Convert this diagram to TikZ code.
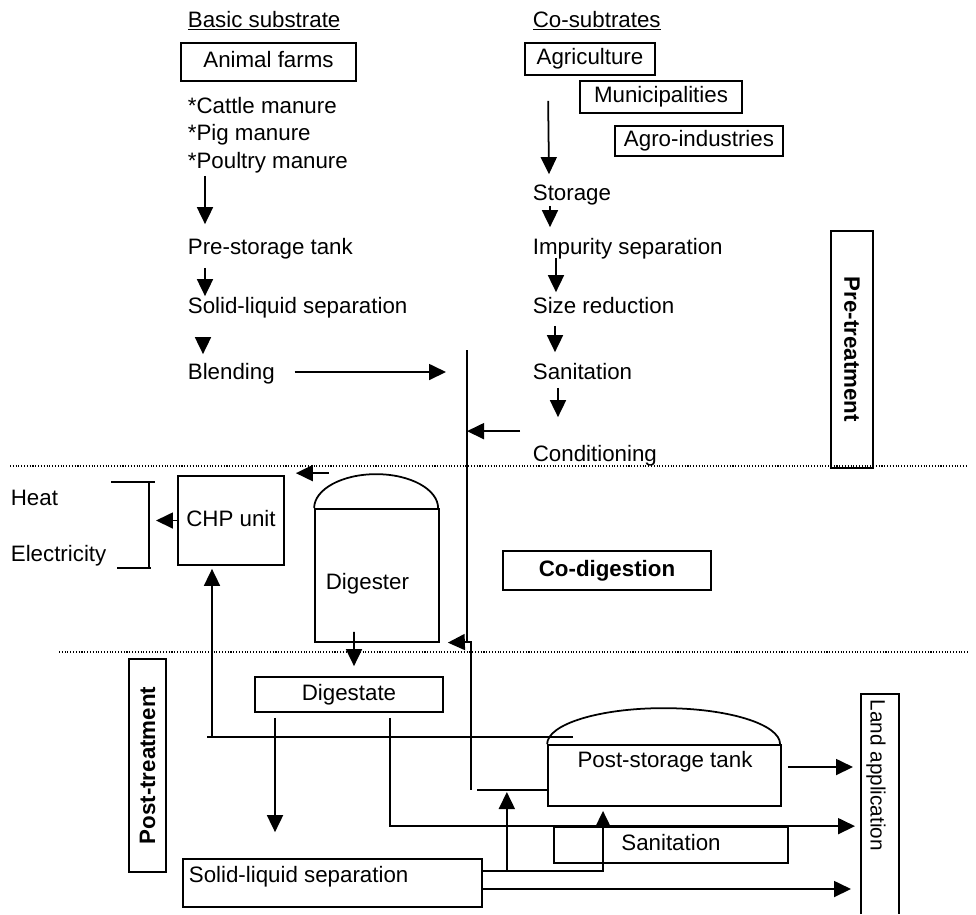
\documentclass[tikz,border=0pt]{standalone}
\usepackage{fontspec}
\setmainfont{Liberation Sans}
\usetikzlibrary{arrows.meta}

\begin{document}
\begin{tikzpicture}[x=0.02cm, y=-0.02cm, line width=1pt,
    font=\fontsize{12.7}{15}\selectfont,
    txt/.style={inner sep=0pt, text height=3.2mm, text depth=1mm, anchor=base west},
    box/.style={draw, inner sep=0pt, text height=3.2mm, text depth=1mm},
    stage/.style={draw, inner sep=0pt, font=\fontsize{12.7}{15}\selectfont\bfseries},
    arr/.style={-{Triangle[length=3.4mm, width=3.2mm]}},
    phase/.style={densely dotted, line width=0.6pt}]
    \useasboundingbox (0,0) rectangle (976,914);

    % Basic substrate
    \node[txt] (basic) at (187,27) {\underline{Basic substrate}};
    \node[box, minimum width=3.5cm, minimum height=0.76cm] (farms) at (268.5,62) {Animal farms};
    \node[txt] (cattle) at (187,113) {*Cattle manure};
    \node[txt] (pig) at (187,140) {*Pig manure};
    \node[txt] (poultry) at (187,168) {*Poultry manure};
    \node[txt] (prestore) at (187,254) {Pre-storage tank};
    \node[txt] (slsep) at (187,313) {Solid-liquid separation};
    \node[txt] (blend) at (187,379) {Blending};

    \draw[arr] ([xshift=3.6mm, yshift=-0.4mm]poultry.south west) -- ([xshift=3.6mm, yshift=2.6mm]prestore.north west);
    \draw[arr] ([xshift=3.6mm, yshift=-1.6mm]prestore.south west) -- ([xshift=3.6mm]slsep.north west);
    \draw[arr] ([xshift=3.2mm, yshift=-4mm]slsep.south west) -- ([xshift=3.2mm, yshift=1.6mm]blend.north west);

    % Co-substrates
    \node[txt] (cosub) at (532,27) {\underline{Co-subtrates}};
    \node[box, minimum width=2.6cm, minimum height=0.64cm] (agri) at (590,59) {Agriculture};
    \node[box, minimum width=3.24cm, minimum height=0.64cm] (munic) at (661,97) {Municipalities};
    \node[box, minimum width=3.36cm, minimum height=0.6cm] (agro) at (699,141) {Agro-industries};
    \node[txt] (storage) at (532,200) {Storage};
    \node[txt] (impur) at (532,254) {Impurity separation};
    \node[txt] (sizered) at (532,313) {Size reduction};
    \node[txt] (sanit) at (532,379) {Sanitation};
    \node[txt] (cond) at (532,461) {Conditioning};

    \draw[arr] ([xshift=4.8mm, yshift=-5mm]agri.south west) -- ([xshift=3.4mm, yshift=1.8mm]storage.north west);
    \draw[arr] ([xshift=3.6mm]storage.south west) -- ([xshift=3.6mm, yshift=2mm]impur.north west);
    \draw[arr] ([xshift=4.8mm, yshift=0.4mm]impur.south west) -- ([xshift=4.8mm, yshift=0.8mm]sizered.north west);
    \draw[arr] ([xshift=4.6mm, yshift=-1.4mm]sizered.south west) -- ([xshift=4.6mm, yshift=2mm]sanit.north west);
    \draw[arr] ([xshift=5.2mm, yshift=-0.6mm]sanit.south west) -- ([xshift=5.2mm, yshift=5.4mm]cond.north west);

    \node[stage, rotate=-90, minimum width=4.74cm, minimum height=0.84cm] (pretreat) at (852,349.5) {Pre-treatment};

    % Phase borders
    \draw[phase] (10,466) -- (968,466);
    \draw[phase] (59,652) -- (968,652);

    % Co-digestion
    \node[box, minimum width=2.12cm, minimum height=1.78cm] (chp) at (231,520.5) {CHP unit};
    \node[draw, minimum width=2.48cm, minimum height=2.66cm] (digester) at (377,575.5) {};
    \draw (digester.north west) arc[start angle=180, end angle=0, x radius=1.24cm, y radius=0.68cm];
    \node[txt] (digtxt) at (325,589) {Digester};
    \node[stage, minimum width=4.16cm, minimum height=0.78cm] (codig) at (607,570.5) {Co-digestion};

    \node[txt] (heat) at (10,505) {Heat};
    \node[txt] (elec) at (10,561) {Electricity};
    \draw (111,482) -- (155,482) (149,482) -- (149,568) (117,568) -- (151,568);
    \coordinate (bracket) at (149,520);
    \draw[arr, shorten >=1.4mm] (chp.west) -- (chp.west -| bracket);
    \draw[arr] ([xshift=8.8mm, yshift=0.4mm]chp.north east) -- ([xshift=2.2mm, yshift=0.4mm]chp.north east);

    % Feed line
    \coordinate (bustop) at (467,350);
    \coordinate (busturn) at (467,642);
    \coordinate (busend) at (471,790);
    \coordinate (blendout) at ([xshift=3.8mm, yshift=0.3mm]blend.east);
    \coordinate (condout) at ([xshift=-2.4mm, yshift=2.6mm]cond.north west);
    \draw[arr, shorten >=4.2mm] (blendout) -- (blendout -| bustop);
    \draw[arr] (condout) -- (condout -| bustop);
    \draw (bustop) -- (busturn) -- ++(4,0) -- (busend);
    \draw[arr, shorten >=1.6mm] (busturn) -- (digester.south east);

    % Post-treatment
    \node[stage, rotate=90, minimum width=4.26cm, minimum height=0.74cm] (posttreat) at (147.5,765.5) {Post-treatment};
    \node[box, minimum width=3.76cm, minimum height=0.7cm] (digestate) at (349,694.5) {Digestate};
    \draw[arr] ([xshift=-4.6mm, yshift=2.2mm]digester.south) -- ([xshift=1mm, yshift=2mm]digestate.north);

    \node[draw, minimum width=4.66cm, minimum height=1.22cm] (poststore) at (664.5,775.5) {};
    \draw (poststore.north west) arc[start angle=180, end angle=0, x radius=2.33cm, y radius=0.72cm];
    \node[txt, anchor=base] (psttxt) at (665,767) {Post-storage tank};
    \node[box, minimum width=4.68cm, minimum height=0.72cm] (sanit2) at (671,845) {Sanitation};
    \node[draw, minimum width=5.98cm, minimum height=0.96cm] (slsep2) at (332.5,883) {};
    \node[txt] (sltxt) at (188,882) {Solid-liquid separation};

    % Land application
    \coordinate (laleft) at (861,694);
    \draw (861,914) -- (laleft) -- (899,694) -- (899,914);
    \node[rotate=-90, anchor=west, inner sep=0pt, font=\fontsize{11.8}{14}\selectfont] (landapp) at (876,699) {Land application};

    % Gas to CHP
    \coordinate (gas) at (573,737);
    \coordinate (chpin) at ([xshift=-3.8mm, yshift=-0.6mm]chp.south);
    \draw[arr] (gas) -| (chpin);
    \draw (chpin |- gas) -- ++(-5,0);

    % Digestate flows
    \coordinate (dg1) at ([xshift=-14.8mm, yshift=-1mm]digestate.south);
    \coordinate (dg2) at ([xshift=8.2mm, yshift=-1mm]digestate.south);
    \draw[arr, shorten >=5.2mm] (dg1) -- (dg1 |- slsep2.north);
    \draw[arr, shorten >=1.2mm] (dg2) |- (laleft |- sanit2.north);
    \draw ([xshift=1.2mm]busend) -- (busend -| poststore.west);

    \coordinate (psout) at ([xshift=1.2mm, yshift=1.7mm]poststore.east);
    \draw[arr, shorten >=1.6mm] (psout) -- (psout -| laleft);

    \coordinate (sl1) at ([yshift=2.4mm]slsep2.east);
    \coordinate (sl1up) at ([xshift=4.8mm]sl1);
    \coordinate (sl2) at ([yshift=-1.2mm]slsep2.east);
    \draw[arr, shorten >=0.8mm] (sl1) -| ([xshift=-12.3mm]poststore.south);
    \draw[arr, shorten >=0.4mm] (sl1up) -- (sl1up |- busend);
    \draw[arr, shorten >=2mm] (sl2) -- (sl2 -| laleft);
\end{tikzpicture}
\end{document}
